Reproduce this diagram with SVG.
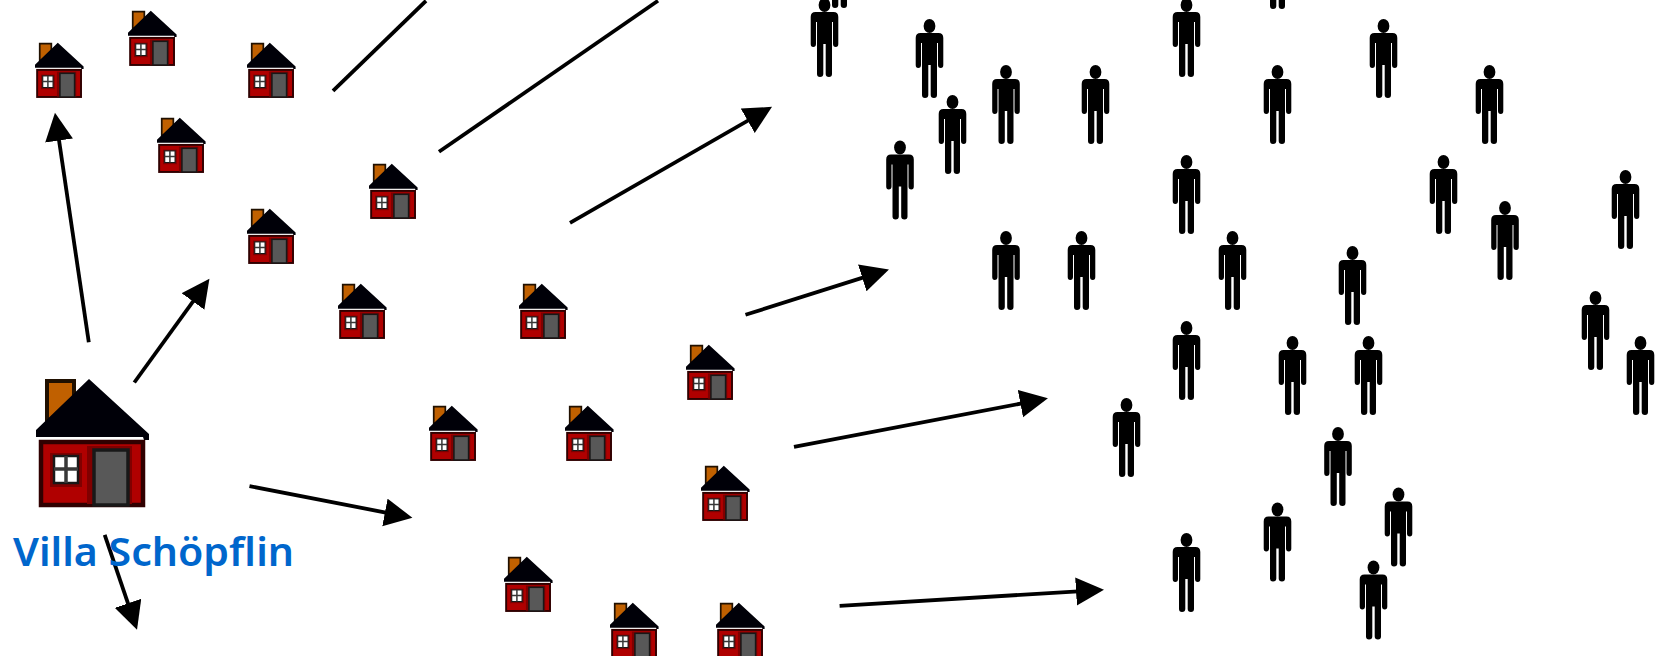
<svg xmlns="http://www.w3.org/2000/svg" width="1658" height="656" viewBox="0 0 1658 656">
<style>
.c line{stroke:#000;stroke-width:3.8;marker-end:url(#a)}
.c line.n{marker-end:none}
.t{font-family:"Noto Sans",sans-serif;font-size:40px;font-weight:600;fill:#0066cc}
</style>
<defs>
<marker id="a" markerUnits="userSpaceOnUse" markerWidth="30" markerHeight="30" refX="23" refY="14" orient="auto"><path d="M0,0L28,14L0,28z" fill="#000"/></marker>
<g id="house">
<path d="M11,2H38V30L11,42z" fill="#c06000" stroke="#201000" stroke-width="4"/>
<path d="M53,0L113,55V61H108L107,58H0V51z" fill="#000008"/>
<rect x="5" y="63" width="102" height="63" fill="#b00000" stroke="#300000" stroke-width="4.500"/>
<rect x="51" y="67" width="45" height="58" fill="#800000"/>
<rect x="58" y="71" width="34" height="55" fill="#585858" stroke="#181818" stroke-width="3.500"/>
<rect x="14" y="74" width="32" height="34" fill="#800000"/>
<rect x="18" y="77" width="24" height="27" fill="#fff" stroke="#181818" stroke-width="2.500"/>
<path d="M30,77V104M18,90H42" stroke="#383838" stroke-width="3.500"/>
</g>
<g id="person">
<ellipse cx="0" cy="7" rx="5.900" ry="7"/>
<path d="M-9,14H9Q13.800,14 13.800,19V46Q13.800,49 11.300,49Q8.500,49 8.500,46V24H7.500V76Q7.500,79 4.500,79Q1.200,79 1.200,76V46H-1.200V76Q-1.200,79 -4.500,79Q-7.500,79 -7.500,76V24H-8.500V46Q-8.500,49 -11.300,49Q-13.800,49 -13.800,46V19Q-13.800,14 -9,14z"/>
</g>
</defs>
<rect width="1658" height="656" fill="#fff"/>
<g id="connectors" class="c" transform="translate(0,.8)">
<line x1="88.800" y1="341.500" x2="55.700" y2="117"/>
<line x1="134.300" y1="381.700" x2="206.500" y2="282"/>
<line x1="249.500" y1="485.300" x2="407.500" y2="516"/>
<line x1="104.700" y1="534" x2="135.400" y2="624.300"/>
<line class="n" x1="333" y1="90" x2="426" y2="0"/>
<line class="n" x1="439" y1="151" x2="658" y2="0"/>
<line x1="570" y1="222" x2="767.700" y2="108.500"/>
<line x1="745.500" y1="314" x2="884.200" y2="270.100"/>
<line x1="794" y1="446" x2="1043" y2="398.500"/>
<line x1="839.600" y1="605" x2="1099" y2="589.300"/>
</g>
<g id="villa"><use href="#house" transform="translate(36,379)"/></g>
<text class="t" x="13" y="566" textLength="281" lengthAdjust="spacingAndGlyphs">Villa Schöpflin</text>
<g id="houses" transform="translate(0,.8)">
<g id="h1"><use href="#house" transform="translate(35,42) scale(.43)"/></g>
<g id="h2"><use href="#house" transform="translate(128,10) scale(.43)"/></g>
<g id="h3"><use href="#house" transform="translate(247,42) scale(.43)"/></g>
<g id="h4"><use href="#house" transform="translate(157,117) scale(.43)"/></g>
<g id="h5"><use href="#house" transform="translate(369,163) scale(.43)"/></g>
<g id="h6"><use href="#house" transform="translate(247,208) scale(.43)"/></g>
<g id="h7"><use href="#house" transform="translate(338,283) scale(.43)"/></g>
<g id="h8"><use href="#house" transform="translate(519,283) scale(.43)"/></g>
<g id="h9"><use href="#house" transform="translate(686,344) scale(.43)"/></g>
<g id="h10"><use href="#house" transform="translate(429,405) scale(.43)"/></g>
<g id="h11"><use href="#house" transform="translate(565,405) scale(.43)"/></g>
<g id="h12"><use href="#house" transform="translate(701,465) scale(.43)"/></g>
<g id="h13"><use href="#house" transform="translate(504,556) scale(.43)"/></g>
<g id="h14"><use href="#house" transform="translate(610,602) scale(.43)"/></g>
<g id="h15"><use href="#house" transform="translate(716,602) scale(.43)"/></g>
</g>
<g id="people" transform="translate(.5,0)">
<g id="p1"><use href="#person" x="824" y="-2"/></g>
<g id="p2"><use href="#person" x="839" y="-71"/></g>
<g id="p3"><use href="#person" x="929" y="19"/></g>
<g id="p4"><use href="#person" x="1005.500" y="65"/></g>
<g id="p5"><use href="#person" x="1095" y="65"/></g>
<g id="p6"><use href="#person" x="952" y="95"/></g>
<g id="p7"><use href="#person" x="899.500" y="140.500"/></g>
<g id="p8"><use href="#person" x="1005.500" y="231"/></g>
<g id="p9"><use href="#person" x="1081" y="231"/></g>
<g id="p10"><use href="#person" x="1186" y="-2"/></g>
<g id="p11"><use href="#person" x="1277" y="-70"/></g>
<g id="p12"><use href="#person" x="1383" y="19"/></g>
<g id="p13"><use href="#person" x="1277" y="65"/></g>
<g id="p14"><use href="#person" x="1489" y="65"/></g>
<g id="p15"><use href="#person" x="1186" y="155"/></g>
<g id="p16"><use href="#person" x="1443" y="155"/></g>
<g id="p17"><use href="#person" x="1625" y="170"/></g>
<g id="p18"><use href="#person" x="1504.500" y="201"/></g>
<g id="p19"><use href="#person" x="1232" y="231"/></g>
<g id="p20"><use href="#person" x="1352" y="246"/></g>
<g id="p21"><use href="#person" x="1595" y="291"/></g>
<g id="p22"><use href="#person" x="1186" y="321"/></g>
<g id="p23"><use href="#person" x="1292" y="336"/></g>
<g id="p24"><use href="#person" x="1368" y="336"/></g>
<g id="p25"><use href="#person" x="1640" y="336"/></g>
<g id="p26"><use href="#person" x="1126" y="398"/></g>
<g id="p27"><use href="#person" x="1337.500" y="427"/></g>
<g id="p28"><use href="#person" x="1398" y="487.500"/></g>
<g id="p29"><use href="#person" x="1277" y="502.500"/></g>
<g id="p30"><use href="#person" x="1186" y="533"/></g>
<g id="p31"><use href="#person" x="1373" y="560.500"/></g>
</g>
</svg>
